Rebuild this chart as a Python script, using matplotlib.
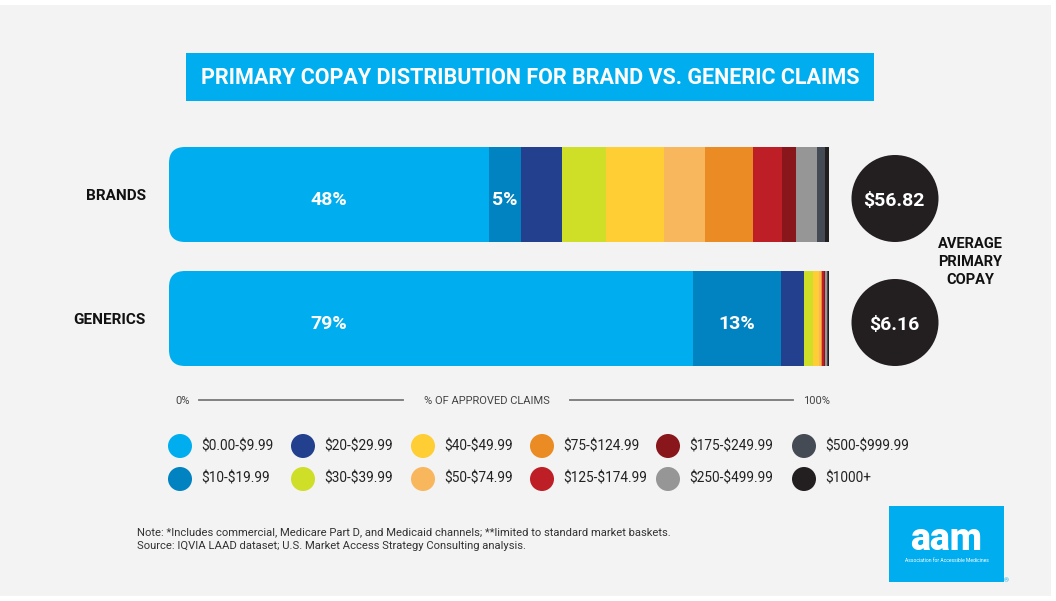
import matplotlib
matplotlib.use("Agg")
import matplotlib.pyplot as plt
import numpy as np
from matplotlib.patches import FancyBboxPatch, Circle, Rectangle

plt.rcParams['font.family'] = ['Roboto', 'DejaVu Sans']

# ---------------- data ----------------
groups = ['BRANDS', 'GENERICS']
bins = ['$0.00-$9.99', '$10-$19.99', '$20-$29.99', '$30-$39.99', '$40-$49.99',
        '$50-$74.99', '$75-$124.99', '$125-$174.99', '$175-$249.99',
        '$250-$499.99', '$500-$999.99', '$1000+']
brand_share = [48.4, 4.8, 6.3, 6.6, 8.8, 6.2, 7.3, 4.3, 2.1, 3.3, 1.1, 0.7]
generic_share = [79.2, 13.4, 3.5, 1.4, 0.9, 0.25, 0.2, 0.2, 0.2, 0.25, 0.2, 0.2]
avg_copay = ['$56.82', '$6.16']
colors = ['#00AEEF', '#0083C0', '#23408E', '#CFDE27', '#FFCD34', '#F9B75D',
          '#EA8C23', '#BE1E25', '#88161B', '#969696', '#454B54', '#231F20']
labeled_bins = 2  # value labels on first two segments

W, H = 1056, 601
BG = '#F2F3F2'
fig = plt.figure(figsize=(W / 100, H / 100), dpi=100)
fig.patch.set_facecolor('white')

# overlay axes in pixel coordinates
ax_bg = fig.add_axes([0, 0, 1, 1])
ax_bg.set_xlim(0, W)
ax_bg.set_ylim(H, 0)
ax_bg.axis('off')
ax_bg.add_patch(Rectangle((0, 5), 1051, 591, facecolor=BG, edgecolor='none', zorder=0))

# title
ax_bg.add_patch(Rectangle((186, 53), 688, 48, facecolor='#00AEEF', edgecolor='none', zorder=1))
ax_bg.text(530, 78, 'PRIMARY COPAY DISTRIBUTION FOR BRAND VS. GENERIC CLAIMS',
           ha='center', va='center', color='white', fontsize=15.5, fontweight='bold',
           parse_math=False, zorder=2)

# bar axes
x0, x1 = 169, 830
ytop, ybot = 147, 366
ax = fig.add_axes([x0 / W, 1 - ybot / H, (x1 - x0) / W, (ybot - ytop) / H])
h = 95 / 124
ax.set_xlim(0, 100)
ax.set_ylim(1 + h / 2, -h / 2)
ax.axis('off')
ax.patch.set_alpha(0)

series = [brand_share, generic_share]
bar_tops = [147, 271]
for i, vals in enumerate(series):
    vals = np.array(vals)
    lefts = np.concatenate([[0], np.cumsum(vals)[:-1]])
    bars = ax.barh(i, vals, left=lefts, height=h, color=colors, edgecolor='none')
    clip = FancyBboxPatch((x0, bar_tops[i]), 720, 95, boxstyle='round,pad=0,rounding_size=16',
                          transform=ax_bg.transData, facecolor='none', edgecolor='none')
    for b in bars:
        b.set_clip_path(clip)
    for k in range(labeled_bins):
        xc = 24.2 if k == 0 else lefts[k] + vals[k] / 2
        ax.text(xc, i + 0.085, f'{round(vals[k]):d}%', ha='center', va='baseline',
                color='white', fontsize=14, fontweight='bold')
    ax_bg.text(146, bar_tops[i] + 48.5, groups[i], ha='right', va='center',
               fontsize=11, fontweight='bold', color='#111111')

# average copay circles
for i, val in enumerate(avg_copay):
    cy = bar_tops[i] + 51.5
    ax_bg.add_patch(Circle((895, cy), 43.5, facecolor='#231F20', edgecolor='none', zorder=3))
    ax_bg.text(894, cy + 7, val, ha='center', va='baseline', color='white',
               fontsize=14, fontweight='bold', parse_math=False, zorder=4)
for j, line in enumerate(['AVERAGE', 'PRIMARY', 'COPAY']):
    ax_bg.text(970, 247.5 + j * 18, line, ha='center', va='baseline', fontsize=10.5,
               fontweight='bold', color='#111111')

# axis caption
ax_bg.plot([199, 403], [399.5, 399.5], color='#777777', lw=1.3)
ax_bg.plot([570, 793], [399.5, 399.5], color='#777777', lw=1.3)
ax_bg.text(183, 404.5, '0%', ha='center', va='baseline', fontsize=8, color='#444444')
ax_bg.text(487, 404.5, '% OF APPROVED CLAIMS', ha='center', va='baseline', fontsize=8,
           color='#444444')
ax_bg.text(817, 404.5, '100%', ha='center', va='baseline', fontsize=8, color='#444444')

# legend
col_x = [180, 303, 423, 542, 668, 804]
row_y = [446, 479]
for k, (lab, c) in enumerate(zip(bins, colors)):
    cx = col_x[k // 2]
    cy = row_y[k % 2]
    ax_bg.add_patch(Circle((cx, cy), 12, facecolor=c, edgecolor='none'))
    ax_bg.text(cx + 21, cy, lab, ha='left', va='center', fontsize=9.8, color='#222222',
               parse_math=False)

# notes
ax_bg.text(137, 535, 'Note: *Includes commercial, Medicare Part D, and Medicaid channels; '
           '**limited to standard market baskets.', ha='left', va='baseline', fontsize=8.1,
           color='#333333')
ax_bg.text(137, 548.7, 'Source: IQVIA LAAD dataset; U.S. Market Access Strategy Consulting analysis.',
           ha='left', va='baseline', fontsize=8.1, color='#333333')

# logo
ax_bg.add_patch(Rectangle((889, 506), 115, 76, facecolor='#00AEEF', edgecolor='none'))
ax_bg.text(946.5, 550, 'aam', ha='center', va='baseline', fontsize=27, fontweight='heavy',
           color='white')
ax_bg.text(946.5, 561, 'Association for Accessible Medicines', ha='center', va='center',
           fontsize=3.6, color='white')
ax_bg.text(1006.5, 581, '®', ha='center', va='center', fontsize=4.5, color='#00AEEF')

fig.savefig('out.png', dpi=100, facecolor=fig.get_facecolor())
